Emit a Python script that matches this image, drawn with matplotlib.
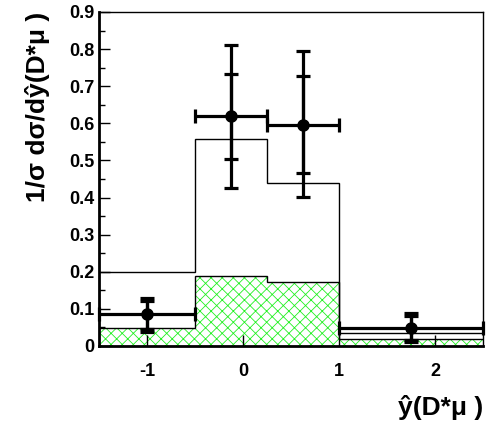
import numpy as np
import matplotlib.pyplot as plt

plt.rcParams['font.family'] = ['Liberation Sans', 'DejaVu Sans']
plt.rcParams['font.weight'] = 'bold'
plt.rcParams['axes.unicode_minus'] = False
plt.rcParams['hatch.linewidth'] = 0.6

# bin edges in y-hat
edges = [-1.5, -0.5, 0.25, 1.0, 2.5]

# MC predictions (open histogram = total, hatched = component)
mc_total = [0.199, 0.557, 0.440, 0.036]
mc_part = [0.049, 0.188, 0.173, 0.018]

# data points
x_data = [-1.0, -0.12, 0.62, 1.75]
y_data = [0.086, 0.619, 0.596, 0.048]
x_lo = [-1.5, -0.5, 0.25, 1.0]
x_hi = [-0.5, 0.25, 1.0, 2.5]
tot_up = [0.128, 0.811, 0.796, 0.088]
tot_dn = [0.039, 0.427, 0.401, 0.010]
stat_up = [0.120, 0.733, 0.728, 0.080]
stat_dn = [0.046, 0.505, 0.466, 0.016]

x_data = np.array(x_data)
y_data = np.array(y_data)
xerr = [x_data - np.array(x_lo), np.array(x_hi) - x_data]
yerr_tot = [y_data - np.array(tot_dn), np.array(tot_up) - y_data]
yerr_stat = [y_data - np.array(stat_dn), np.array(stat_up) - y_data]

fig = plt.figure(figsize=(4.98, 4.25), dpi=100)
ax = fig.add_axes([0.1988, 0.1859, 0.7711, 0.7859])

# hatched part
ax.stairs(mc_part, edges, fill=True, facecolor='none', edgecolor='#22f022',
          hatch='xxx', linewidth=0, baseline=0)
ax.stairs(mc_part, edges, color='k', linewidth=1.0, baseline=None)
ax.stairs(mc_total, edges, color='k', linewidth=1.0, baseline=None)

# data with total and stat errors
ax.errorbar(x_data, y_data, xerr=xerr, yerr=yerr_tot, fmt='o', color='k',
            ms=8, elinewidth=2.3, capsize=4.7, capthick=2.3, clip_on=False, zorder=5)
ax.errorbar(x_data, y_data, yerr=yerr_stat, fmt='none', color='k',
            elinewidth=2.3, capsize=4.7, capthick=2.3, zorder=5)

ax.set_xlim(-1.5, 2.5)
ax.set_ylim(0, 0.9)
ax.set_xticks([-1, 0, 1, 2])
ax.set_yticks(np.arange(0, 0.91, 0.1))
ax.set_yticklabels(['0', '0.1', '0.2', '0.3', '0.4', '0.5', '0.6', '0.7', '0.8', '0.9'])
ax.set_yticks(np.arange(0.05, 0.9, 0.1), minor=True)

ax.tick_params(axis='both', which='major', direction='in', length=8, width=1,
               labelsize=13, pad=6)
ax.tick_params(axis='y', which='minor', direction='in', length=4.5, width=1)
ax.tick_params(axis='y', which='major', pad=3)
ax.tick_params(axis='x', which='major', pad=12)

ax.spines['left'].set_linewidth(2)
ax.spines['bottom'].set_linewidth(2)
ax.spines['top'].set_linewidth(1)
ax.spines['right'].set_linewidth(1)

ax.set_ylabel('1/σ dσ/dŷ(D*μ )', fontsize=19, fontweight='bold', loc='top', labelpad=14)
ax.set_xlabel('ŷ(D*μ )', fontsize=19, fontweight='bold', loc='right', labelpad=11)

fig.savefig('out.png', dpi=100)
